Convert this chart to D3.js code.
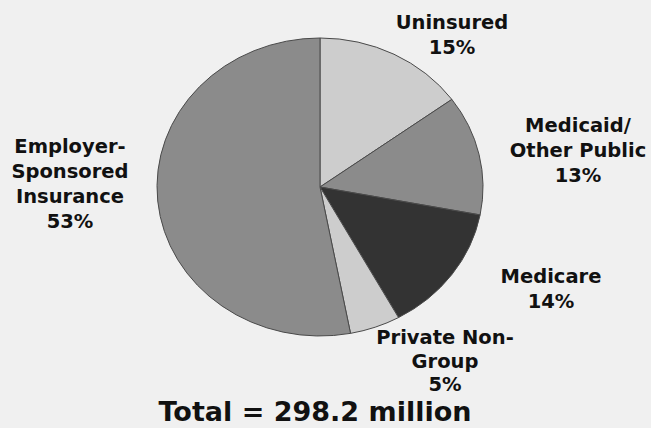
<!DOCTYPE html>
<html>
<head>
<meta charset="utf-8">
<script src="https://cdn.jsdelivr.net/npm/d3@7"></script>
<style>
  body { margin: 0; background: #f0f0f0; }
  svg { display: block; }
  text { font-family: "DejaVu Sans", Verdana, sans-serif; font-weight: bold; fill: #111; }
</style>
</head>
<body>
<svg id="chart" width="651" height="428"></svg>
<script>
// Slice data, clockwise from 12 o'clock
const categories = ['Uninsured', 'Medicaid/Other Public', 'Medicare', 'Private Non-Group', 'Employer-Sponsored Insurance'];
const shares = [15, 13, 14, 5, 53];
const sliceColors = ['#cdcdcd', '#8b8b8b', '#333333', '#cdcdcd', '#8b8b8b'];

// label lines and where each block sits
const labelLines = [
    ['Uninsured', '15%'],
    ['Medicaid/', 'Other Public', '13%'],
    ['Medicare', '14%'],
    ['Private Non-', 'Group', '5%'],
    ['Employer-', 'Sponsored', 'Insurance', '53%']
];
const labelPos = [[452, 29], [578, 132], [551, 283], [445, 344], [70, 153]];
const lineGap = [25, 25, 25, 23.5, 25];

const svg = d3.select('#chart');

// the pie is a bit wider than tall in the original
const rx = 163, ry = 149;
const cx = 320, cy = 187;

const pie = d3.pie().sort(null).value(d => d);
const arc = d3.arc().innerRadius(0).outerRadius(rx);

const g = svg.append('g')
    .attr('transform', `translate(${cx},${cy}) scale(1,${ry / rx})`);

g.selectAll('path')
    .data(pie(shares))
    .enter()
    .append('path')
    .attr('d', arc)
    .attr('fill', (d, i) => sliceColors[i])
    .attr('stroke', '#4a4a4a')
    .attr('stroke-width', 1)
    .attr('vector-effect', 'non-scaling-stroke');

// labels
labelLines.forEach((lines, i) => {
    const t = svg.append('text')
        .attr('x', labelPos[i][0])
        .attr('y', labelPos[i][1])
        .attr('text-anchor', 'middle')
        .style('font-size', '19.5px');
    lines.forEach((line, j) => {
        t.append('tspan')
            .attr('x', labelPos[i][0])
            .attr('dy', j === 0 ? 0 : lineGap[i])
            .text(line);
    });
});

// total
svg.append('text')
    .attr('x', 315)
    .attr('y', 421)
    .attr('text-anchor', 'middle')
    .style('font-size', '27px')
    .text('Total = 298.2 million');
</script>
</body>
</html>
